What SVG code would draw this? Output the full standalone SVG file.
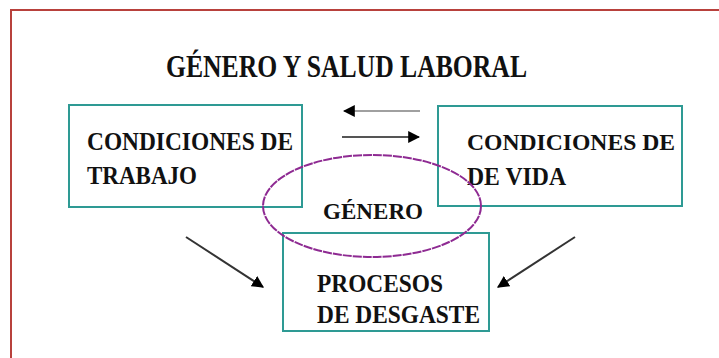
<svg xmlns="http://www.w3.org/2000/svg" width="719" height="358" viewBox="0 0 719 358">
  <style>
    text { font-family: "Liberation Serif", "DejaVu Serif", serif; font-weight: bold; fill: #111; }
    .box { fill: none; stroke: #2e9a94; stroke-width: 2; }
    .conn { stroke-width: 2; fill: none; }
  </style>
  <defs>
    <marker id="ah" viewBox="0 0 10 10" refX="9" refY="5" markerWidth="6" markerHeight="6" orient="auto" markerUnits="strokeWidth">
      <path d="M0,0 L10,5 L0,10 z" fill="#000"/>
    </marker>
  </defs>
  <rect width="719" height="358" fill="#fff"/>
  <rect x="11" y="10" width="730" height="370" fill="none" stroke="#b8413c" stroke-width="2"/>
  <g id="title">
    <text x="166" y="77" font-size="31" textLength="361" lengthAdjust="spacingAndGlyphs">GÉNERO Y SALUD LABORAL</text>
  </g>
  <g id="trabajo">
    <rect class="box" x="69" y="105" width="233" height="102"/>
    <text x="87" y="150" font-size="25" textLength="206" lengthAdjust="spacingAndGlyphs">CONDICIONES DE</text>
    <text x="87" y="184" font-size="25" textLength="110" lengthAdjust="spacingAndGlyphs">TRABAJO</text>
  </g>
  <g id="vida">
    <rect class="box" x="438" y="106" width="244" height="100"/>
    <text x="467" y="150" font-size="24" textLength="208" lengthAdjust="spacingAndGlyphs">CONDICIONES DE</text>
    <text x="467" y="185" font-size="25" textLength="99" lengthAdjust="spacingAndGlyphs">DE VIDA</text>
  </g>
  <g id="desgaste">
    <rect class="box" x="283" y="233" width="206" height="98"/>
    <text x="317" y="292" font-size="25" textLength="126" lengthAdjust="spacingAndGlyphs">PROCESOS</text>
    <text x="317" y="323" font-size="25" textLength="163" lengthAdjust="spacingAndGlyphs">DE DESGASTE</text>
  </g>
  <g id="genero">
    <ellipse cx="372" cy="206" rx="109" ry="51" fill="none" stroke="#8e2a92" stroke-width="2" stroke-dasharray="9 1"/>
    <text x="323" y="219" font-size="24" textLength="100" lengthAdjust="spacingAndGlyphs">GÉNERO</text>
  </g>
  <g id="connectors">
    <line class="conn" x1="420" y1="111" x2="344" y2="111" stroke="#a0a0a0" marker-end="url(#ah)"/>
    <line class="conn" x1="342" y1="137" x2="419" y2="137" stroke="#555" marker-end="url(#ah)"/>
    <line class="conn" x1="186" y1="237" x2="263" y2="287" stroke="#333" marker-end="url(#ah)"/>
    <line class="conn" x1="575" y1="237" x2="498" y2="287" stroke="#333" marker-end="url(#ah)"/>
  </g>
</svg>
